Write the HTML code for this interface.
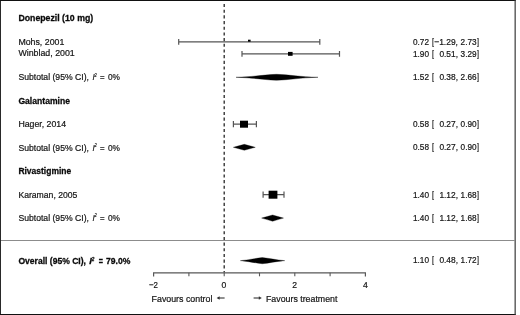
<!DOCTYPE html>
<html><head><meta charset="utf-8"><title>Forest plot</title>
<style>
html,body{margin:0;padding:0;background:#fff;}
body{width:520px;height:315px;overflow:hidden;}
svg{display:block;will-change:transform;}
text{font-family:"Liberation Sans",sans-serif;fill:#151515;stroke:#151515;stroke-width:0.22px;}
.b{font-weight:bold;fill:#0a0a0a;stroke:#0a0a0a;stroke-width:0.28px;}
.i{font-style:italic;}
</style></head><body>
<svg width="520" height="315" viewBox="0 0 520 315">
<rect x="0" y="0" width="515.8" height="1" fill="#111"/><rect x="0" y="0" width="0.9" height="315" fill="#111"/><rect x="0" y="314" width="515.8" height="1" fill="#111"/><rect x="514.55" y="0" width="1.2" height="315" fill="#3a3a3a"/>
<line x1="1" y1="240.5" x2="515" y2="240.5" stroke="#8c8c8c" stroke-width="1"/>
<line x1="224.2" y1="4" x2="224.2" y2="272.6" stroke="#262626" stroke-width="1.3" stroke-dasharray="3.1 2.58"/>
<path d="M153.6 276.5V272.8H365.4V276.5" fill="none" stroke="#585858" stroke-width="1.2"/>
<line x1="188.9" y1="272.8" x2="188.9" y2="276.3" stroke="#585858" stroke-width="1.1"/>
<line x1="224.2" y1="272.8" x2="224.2" y2="276.3" stroke="#585858" stroke-width="1.1"/>
<line x1="259.5" y1="272.8" x2="259.5" y2="276.3" stroke="#585858" stroke-width="1.1"/>
<line x1="294.8" y1="272.8" x2="294.8" y2="276.3" stroke="#585858" stroke-width="1.1"/>
<line x1="330.1" y1="272.8" x2="330.1" y2="276.3" stroke="#585858" stroke-width="1.1"/>
<text x="149.0" y="287.6" font-size="9.20" textLength="9.0" lengthAdjust="spacingAndGlyphs">−2</text>
<text x="221.6" y="287.6" font-size="9.20" textLength="4.8" lengthAdjust="spacingAndGlyphs">0</text>
<text x="292.2" y="287.6" font-size="9.20" textLength="4.8" lengthAdjust="spacingAndGlyphs">2</text>
<text x="363.0" y="287.6" font-size="9.20" textLength="4.8" lengthAdjust="spacingAndGlyphs">4</text>
<text x="151.6" y="301.9" font-size="9.20" textLength="60.8" lengthAdjust="spacingAndGlyphs">Favours control</text>
<text x="266.0" y="301.9" font-size="9.20" textLength="71.4" lengthAdjust="spacingAndGlyphs">Favours treatment</text>
<path d="M224.6 298H218.4" fill="none" stroke="#333" stroke-width="1.1"/><path d="M216.6 298L219.6 296.2V299.8Z" fill="#333"/>
<path d="M253.6 298H259.8" fill="none" stroke="#333" stroke-width="1.1"/><path d="M261.8 298L258.8 296.2V299.8Z" fill="#333"/>
<text x="18.4" y="21.4" font-size="9.20" textLength="74.8" lengthAdjust="spacingAndGlyphs" class="b">Donepezil (10 mg)</text>
<text x="18.4" y="44.6" font-size="9.20" textLength="45.9" lengthAdjust="spacingAndGlyphs">Mohs, 2001</text>
<text x="18.4" y="56.3" font-size="9.20" textLength="56.4" lengthAdjust="spacingAndGlyphs">Winblad, 2001</text>
<text x="18.4" y="103.6" font-size="9.20" textLength="51.6" lengthAdjust="spacingAndGlyphs" class="b">Galantamine</text>
<text x="18.4" y="126.7" font-size="9.20" textLength="47.6" lengthAdjust="spacingAndGlyphs">Hager, 2014</text>
<text x="18.4" y="173.6" font-size="9.20" textLength="52.8" lengthAdjust="spacingAndGlyphs" class="b">Rivastigmine</text>
<text x="18.4" y="197.8" font-size="9.20" textLength="59.0" lengthAdjust="spacingAndGlyphs">Karaman, 2005</text>
<text x="18.4" y="80.0" font-size="9.20" textLength="70.6" lengthAdjust="spacingAndGlyphs">Subtotal (95% CI),</text>
<text x="92.6" y="80.0" font-size="9.20" textLength="2.2" lengthAdjust="spacingAndGlyphs" class="i">I</text>
<text x="94.6" y="76.8" font-size="5.00" textLength="2.2" lengthAdjust="spacingAndGlyphs" class="i">2</text>
<text x="100.0" y="80.0" font-size="9.20" textLength="4.6" lengthAdjust="spacingAndGlyphs">=</text>
<text x="108.0" y="80.0" font-size="9.20" textLength="12.0" lengthAdjust="spacingAndGlyphs">0%</text>
<text x="18.4" y="150.6" font-size="9.20" textLength="70.6" lengthAdjust="spacingAndGlyphs">Subtotal (95% CI),</text>
<text x="92.6" y="150.6" font-size="9.20" textLength="2.2" lengthAdjust="spacingAndGlyphs" class="i">I</text>
<text x="94.6" y="147.4" font-size="5.00" textLength="2.2" lengthAdjust="spacingAndGlyphs" class="i">2</text>
<text x="100.0" y="150.6" font-size="9.20" textLength="4.6" lengthAdjust="spacingAndGlyphs">=</text>
<text x="108.0" y="150.6" font-size="9.20" textLength="12.0" lengthAdjust="spacingAndGlyphs">0%</text>
<text x="18.4" y="220.6" font-size="9.20" textLength="70.6" lengthAdjust="spacingAndGlyphs">Subtotal (95% CI),</text>
<text x="92.6" y="220.6" font-size="9.20" textLength="2.2" lengthAdjust="spacingAndGlyphs" class="i">I</text>
<text x="94.6" y="217.4" font-size="5.00" textLength="2.2" lengthAdjust="spacingAndGlyphs" class="i">2</text>
<text x="100.0" y="220.6" font-size="9.20" textLength="4.6" lengthAdjust="spacingAndGlyphs">=</text>
<text x="108.0" y="220.6" font-size="9.20" textLength="12.0" lengthAdjust="spacingAndGlyphs">0%</text>
<text x="18.4" y="263.7" font-size="9.20" textLength="67.6" lengthAdjust="spacingAndGlyphs" class="b">Overall (95% CI),</text>
<text x="89.2" y="263.7" font-size="9.20" textLength="2.6" lengthAdjust="spacingAndGlyphs" class="b i">I</text>
<text x="91.8" y="260.5" font-size="5.00" textLength="2.6" lengthAdjust="spacingAndGlyphs" class="b i">2</text>
<text x="98.8" y="263.7" font-size="9.20" textLength="4.2" lengthAdjust="spacingAndGlyphs" class="b">=</text>
<text x="106.0" y="263.7" font-size="9.20" textLength="24.4" lengthAdjust="spacingAndGlyphs" class="b">79.0%</text>
<text x="413.0" y="44.6" font-size="9.20" textLength="16.0" lengthAdjust="spacingAndGlyphs">0.72</text>
<text x="432.0" y="44.6" font-size="9.20" textLength="2.0" lengthAdjust="spacingAndGlyphs">[</text>
<text x="434.2" y="44.6" font-size="9.20" textLength="23.8" lengthAdjust="spacingAndGlyphs">−1.29,</text>
<text x="460.6" y="44.6" font-size="9.20" textLength="16.0" lengthAdjust="spacingAndGlyphs">2.73</text>
<text x="477.0" y="44.6" font-size="9.20" textLength="2.0" lengthAdjust="spacingAndGlyphs">]</text>
<text x="413.0" y="56.6" font-size="9.20" textLength="16.0" lengthAdjust="spacingAndGlyphs">1.90</text>
<text x="432.0" y="56.6" font-size="9.20" textLength="2.0" lengthAdjust="spacingAndGlyphs">[</text>
<text x="439.4" y="56.6" font-size="9.20" textLength="18.6" lengthAdjust="spacingAndGlyphs">0.51,</text>
<text x="460.6" y="56.6" font-size="9.20" textLength="16.0" lengthAdjust="spacingAndGlyphs">3.29</text>
<text x="477.0" y="56.6" font-size="9.20" textLength="2.0" lengthAdjust="spacingAndGlyphs">]</text>
<text x="413.0" y="79.8" font-size="9.20" textLength="16.0" lengthAdjust="spacingAndGlyphs">1.52</text>
<text x="432.0" y="79.8" font-size="9.20" textLength="2.0" lengthAdjust="spacingAndGlyphs">[</text>
<text x="439.4" y="79.8" font-size="9.20" textLength="18.6" lengthAdjust="spacingAndGlyphs">0.38,</text>
<text x="460.6" y="79.8" font-size="9.20" textLength="16.0" lengthAdjust="spacingAndGlyphs">2.66</text>
<text x="477.0" y="79.8" font-size="9.20" textLength="2.0" lengthAdjust="spacingAndGlyphs">]</text>
<text x="413.0" y="126.6" font-size="9.20" textLength="16.0" lengthAdjust="spacingAndGlyphs">0.58</text>
<text x="432.0" y="126.6" font-size="9.20" textLength="2.0" lengthAdjust="spacingAndGlyphs">[</text>
<text x="439.4" y="126.6" font-size="9.20" textLength="18.6" lengthAdjust="spacingAndGlyphs">0.27,</text>
<text x="460.6" y="126.6" font-size="9.20" textLength="16.0" lengthAdjust="spacingAndGlyphs">0.90</text>
<text x="477.0" y="126.6" font-size="9.20" textLength="2.0" lengthAdjust="spacingAndGlyphs">]</text>
<text x="413.0" y="150.4" font-size="9.20" textLength="16.0" lengthAdjust="spacingAndGlyphs">0.58</text>
<text x="432.0" y="150.4" font-size="9.20" textLength="2.0" lengthAdjust="spacingAndGlyphs">[</text>
<text x="439.4" y="150.4" font-size="9.20" textLength="18.6" lengthAdjust="spacingAndGlyphs">0.27,</text>
<text x="460.6" y="150.4" font-size="9.20" textLength="16.0" lengthAdjust="spacingAndGlyphs">0.90</text>
<text x="477.0" y="150.4" font-size="9.20" textLength="2.0" lengthAdjust="spacingAndGlyphs">]</text>
<text x="413.0" y="197.7" font-size="9.20" textLength="16.0" lengthAdjust="spacingAndGlyphs">1.40</text>
<text x="432.0" y="197.7" font-size="9.20" textLength="2.0" lengthAdjust="spacingAndGlyphs">[</text>
<text x="439.4" y="197.7" font-size="9.20" textLength="18.6" lengthAdjust="spacingAndGlyphs">1.12,</text>
<text x="460.6" y="197.7" font-size="9.20" textLength="16.0" lengthAdjust="spacingAndGlyphs">1.68</text>
<text x="477.0" y="197.7" font-size="9.20" textLength="2.0" lengthAdjust="spacingAndGlyphs">]</text>
<text x="413.0" y="220.8" font-size="9.20" textLength="16.0" lengthAdjust="spacingAndGlyphs">1.40</text>
<text x="432.0" y="220.8" font-size="9.20" textLength="2.0" lengthAdjust="spacingAndGlyphs">[</text>
<text x="439.4" y="220.8" font-size="9.20" textLength="18.6" lengthAdjust="spacingAndGlyphs">1.12,</text>
<text x="460.6" y="220.8" font-size="9.20" textLength="16.0" lengthAdjust="spacingAndGlyphs">1.68</text>
<text x="477.0" y="220.8" font-size="9.20" textLength="2.0" lengthAdjust="spacingAndGlyphs">]</text>
<text x="413.0" y="263.4" font-size="9.20" textLength="16.0" lengthAdjust="spacingAndGlyphs">1.10</text>
<text x="432.0" y="263.4" font-size="9.20" textLength="2.0" lengthAdjust="spacingAndGlyphs">[</text>
<text x="439.4" y="263.4" font-size="9.20" textLength="18.6" lengthAdjust="spacingAndGlyphs">0.48,</text>
<text x="460.6" y="263.4" font-size="9.20" textLength="16.0" lengthAdjust="spacingAndGlyphs">1.72</text>
<text x="477.0" y="263.4" font-size="9.20" textLength="2.0" lengthAdjust="spacingAndGlyphs">]</text>
<path d="M178.7 41.9H319.8M178.7 39.0V44.8M319.8 39.0V44.8" fill="none" stroke="#555" stroke-width="1.2"/>
<rect x="248.0" y="39.7" width="2.6" height="2.0" fill="#000"/>
<path d="M242.0 53.9H339.5M242.0 51.0V56.8M339.5 51.0V56.8" fill="none" stroke="#555" stroke-width="1.2"/>
<rect x="288.0" y="51.9" width="4.6" height="3.9" fill="#000"/>
<path d="M233.4 124.2H256.4M233.4 121.1V127.3M256.4 121.1V127.3" fill="none" stroke="#555" stroke-width="1.2"/>
<rect x="240.0" y="120.7" width="8.0" height="7.0" fill="#000"/>
<path d="M263.1 194.7H284.0M263.1 191.6V197.8M284.0 191.6V197.8" fill="none" stroke="#555" stroke-width="1.2"/>
<rect x="268.6" y="190.7" width="8.8" height="8.0" fill="#000"/>
<path d="M236.00 77.30C253.89 76.80 263.68 74.80 276.50 74.30C289.64 74.80 299.67 76.80 318.00 77.30C299.67 77.80 289.64 79.80 276.50 80.30C263.68 79.80 253.89 77.80 236.00 77.30Z" fill="#000" stroke="#000" stroke-width="0.35" stroke-linejoin="miter" stroke-miterlimit="20"/>
<path d="M233.30 147.30C236.97 146.30 240.63 145.30 244.30 144.30C247.97 145.30 251.63 146.30 255.30 147.30C251.63 148.30 247.97 149.30 244.30 150.30C240.63 149.30 236.97 148.30 233.30 147.30Z" fill="#000" stroke="#000" stroke-width="0.30" stroke-linejoin="miter" stroke-miterlimit="20"/>
<path d="M261.60 218.10C265.27 217.05 268.93 216.00 272.60 214.95C276.23 216.00 279.87 217.05 283.50 218.10C279.87 219.15 276.23 220.20 272.60 221.25C268.93 220.20 265.27 219.15 261.60 218.10Z" fill="#000" stroke="#000" stroke-width="0.30" stroke-linejoin="miter" stroke-miterlimit="20"/>
<path d="M240.30 260.65C248.83 259.88 255.15 258.32 262.30 257.55C269.61 258.32 276.08 259.88 284.80 260.65C276.08 261.42 269.61 262.97 262.30 263.75C255.15 262.97 248.83 261.42 240.30 260.65Z" fill="#000" stroke="#000" stroke-width="0.30" stroke-linejoin="miter" stroke-miterlimit="20"/>
</svg>
</body></html>
